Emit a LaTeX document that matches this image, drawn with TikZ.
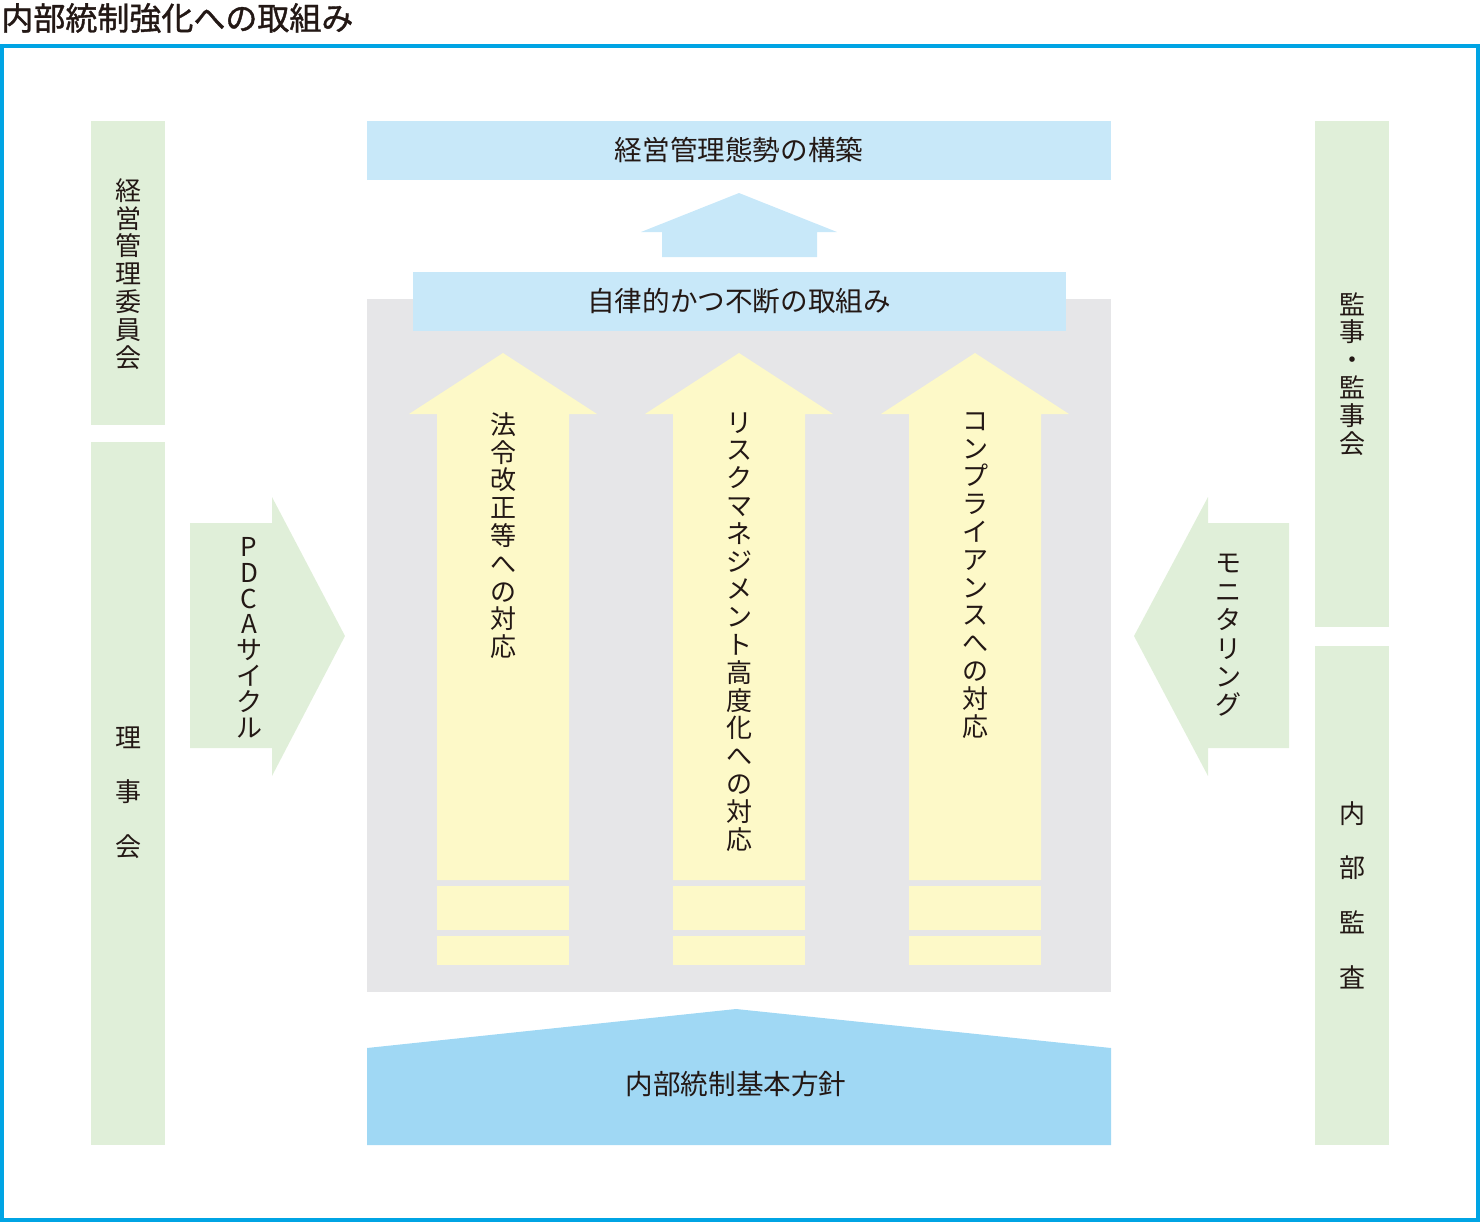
\documentclass[tikz,border=0pt]{standalone}
\usepackage{fontspec}
\setmainfont{Noto Sans CJK JP}
\newfontfamily\midashi{Noto Sans CJK JP}[FakeBold=1.2]
\usetikzlibrary{calc}

\definecolor{waku}{RGB}{0,164,228}
\definecolor{midori}{RGB}{224,239,217}
\definecolor{usuao}{RGB}{200,232,249}
\definecolor{ao}{RGB}{160,216,244}
\definecolor{haiiro}{RGB}{230,230,232}
\definecolor{kiiro}{RGB}{253,249,200}
\definecolor{sumi}{RGB}{35,24,21}

\begin{document}
\begin{tikzpicture}[x=0.5pt,y=-0.5pt,
    tate/.style={align=center, inner sep=0pt, anchor=north, text=sumi,
        font=\fontsize{13}{13.9}\selectfont},
    tatewide/.style={tate, font=\fontsize{13}{27.3}\selectfont},
    yoko/.style={inner sep=0pt, text=sumi, font=\fontsize{13.8}{16}\selectfont}]
\useasboundingbox (0,0) rectangle (1480,1222);

% title and frame
\node[anchor=west, inner sep=0pt, text=sumi, font=\fontsize{16}{18}\selectfont\midashi] (title) at (1,18) {内部統制強化への取組み};
\draw[waku, line width=1.8pt] (2,46) rectangle (1478,1220);

% side bars
\fill[midori] (91,121) rectangle (165,425);
\fill[midori] (91,442) rectangle (165,1145);
\fill[midori] (1315,121) rectangle (1389,627);
\fill[midori] (1315,646) rectangle (1389,1145);

\node[tate] (keiei) at (128,178) {経\\営\\管\\理\\委\\員\\会};
\node[tatewide] (rijikai) at (128,726) {理\\事\\会};
\node[tate] (kanji) at (1352,292) {監\\事\\・\\監\\事\\会};
\node[tatewide] (naibu) at (1352,801) {内\\部\\監\\査};

% PDCA and monitoring arrows
\fill[midori] (190,523) -- (272,523) -- (272,497) -- (345,636) -- (272,776) -- (272,748) -- (190,748) -- cycle;
\fill[midori] (1289,523) -- (1208,523) -- (1208,497) -- (1134,636) -- (1208,776) -- (1208,748) -- (1289,748) -- cycle;
\node[tate, font=\fontsize{13}{12.9}\selectfont] (pdca) at (249,537) {P\\D\\C\\A\\サ\\イ\\ク\\ル};
\node[tate, font=\fontsize{13}{14.2}\selectfont] (monitor) at (1228,554) {モ\\ニ\\タ\\リ\\ン\\グ};

% top
\fill[usuao] (367,121) rectangle (1111,180);
\node[yoko] (kouchiku) at (739,150) {経営管理態勢の構築};
\fill[usuao] (662,257) -- (662,232) -- (641,232) -- (739,193) -- (837,232) -- (817,232) -- (817,257) -- cycle;

% centre panel
\fill[haiiro] (367,299) rectangle (1111,992);
\fill[usuao] (413,272) rectangle (1066,331);
\node[yoko] (torikumi) at (739,301) {自律的かつ不断の取組み};

\foreach \x in {503,739,975}{
    \fill[kiiro] (\x-66,880) -- (\x-66,414) -- (\x-94,414) -- (\x,353) -- (\x+94,414) -- (\x+66,414) -- (\x+66,880) -- cycle;
    \fill[kiiro] (\x-66,886) rectangle (\x+66,930);
    \fill[kiiro] (\x-66,936) rectangle (\x+66,965);
}
\node[tate] (hourei) at (503,412) {法\\令\\改\\正\\等\\へ\\の\\対\\応};
\node[tate] (risk) at (739,412) {リ\\ス\\ク\\マ\\ネ\\ジ\\メ\\ン\\ト\\高\\度\\化\\へ\\の\\対\\応};
\node[tate] (comp) at (975,412) {コ\\ン\\プ\\ラ\\イ\\ア\\ン\\ス\\へ\\の\\対\\応};

% base
\fill[ao] (367,1145) -- (367,1048) -- (736,1009) -- (1111,1048) -- (1111,1145) -- cycle;
\node[yoko] (houshin) at (736,1084) {内部統制基本方針};
\end{tikzpicture}
\end{document}
